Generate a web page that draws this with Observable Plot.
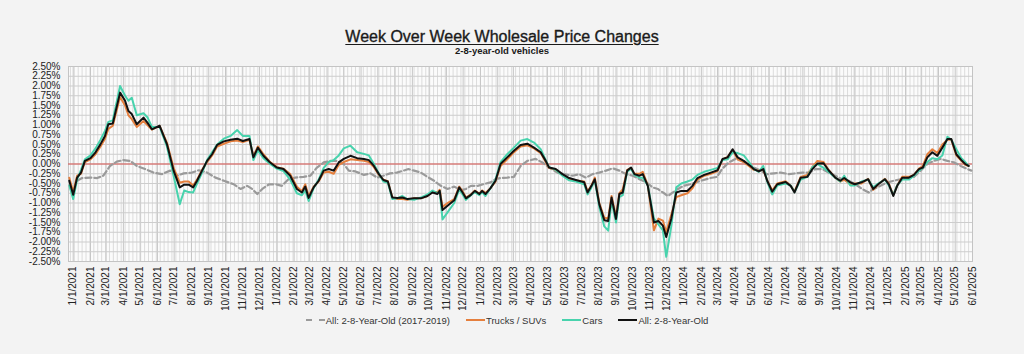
<!DOCTYPE html>
<html>
<head>
<meta charset="utf-8">
<script src="https://cdn.jsdelivr.net/npm/d3@7"></script>
<script src="https://cdn.jsdelivr.net/npm/@observablehq/plot@0.6"></script>
<style>
  body { margin: 0; background: #f3f3f3; font-family: "Liberation Sans", Arial, sans-serif; }
  #wrap { width: 1024px; height: 354px; overflow: hidden; }
  #head { height: 58px; box-sizing: border-box; padding-top: 28px; text-align: center; padding-right: 20px; }
  #title { font-size: 16px; line-height: 18px; color: #1a1a1a; text-decoration: underline; text-underline-offset: 2px; -webkit-text-stroke: 0.35px #1a1a1a; }
  #subtitle { font-size: 9.5px; line-height: 12px; font-weight: bold; color: #1a1a1a; margin-top: -1px; }
  #legend { height: 20px; display: flex; justify-content: center; align-items: center; font-size: 9.5px; color: #333; padding-right: 10px; }
  .item { display: flex; align-items: center; margin: 0 8px; }
  .sw { width: 19px; height: 0; margin-right: 1px; }
</style>
</head>
<body>
<div id="wrap">
  <div id="head">
    <div id="title">Week Over Week Wholesale Price Changes</div>
    <div id="subtitle">2-8-year-old vehicles</div>
  </div>
  <div id="chart"></div>
  <div id="legend"></div>
</div>
<script>
// ---- data (percent week-over-week) ----
const seriesNames = ["All: 2-8-Year-Old (2017-2019)", "Trucks / SUVs", "Cars", "All: 2-8-Year-Old"];

const weekDates = [
"2020-12-25","2021-01-01","2021-01-08","2021-01-15","2021-01-22","2021-02-01","2021-02-10","2021-02-19","2021-02-27","2021-03-05",
"2021-03-13","2021-03-26","2021-04-04","2021-04-10","2021-04-16","2021-04-25","2021-05-07","2021-05-14","2021-05-22","2021-06-05",
"2021-06-18","2021-06-30","2021-07-11","2021-07-19","2021-07-27","2021-08-04","2021-08-11","2021-08-20","2021-08-29","2021-09-07",
"2021-09-16","2021-09-28","2021-10-10","2021-10-22","2021-11-01","2021-11-13","2021-11-20","2021-11-28","2021-12-08","2021-12-20",
"2022-01-01","2022-01-13","2022-01-25","2022-02-06","2022-02-15","2022-02-21","2022-02-27","2022-03-08","2022-03-17","2022-03-26",
"2022-04-04","2022-04-13","2022-04-22","2022-05-01","2022-05-13","2022-05-25","2022-06-06","2022-06-15","2022-06-24","2022-07-03",
"2022-07-11","2022-07-19","2022-07-27","2022-08-05","2022-08-14","2022-08-23","2022-09-04","2022-09-16","2022-09-28","2022-10-07",
"2022-10-16","2022-10-20","2022-10-25","2022-11-03","2022-11-15","2022-11-24","2022-11-30","2022-12-06","2022-12-15","2022-12-22",
"2022-12-30","2023-01-04","2023-01-10","2023-01-19","2023-01-28","2023-02-06","2023-02-18","2023-03-02","2023-03-14","2023-03-26",
"2023-04-07","2023-04-19","2023-04-28","2023-05-04","2023-05-16","2023-05-28","2023-06-09","2023-06-21","2023-07-06","2023-07-12",
"2023-07-19","2023-07-25","2023-08-02","2023-08-11","2023-08-18","2023-08-24","2023-09-01","2023-09-07","2023-09-13","2023-09-21",
"2023-09-28","2023-10-04","2023-10-13","2023-10-19","2023-10-28","2023-11-08","2023-11-16","2023-11-24","2023-11-30","2023-12-09",
"2023-12-18","2023-12-27","2024-01-07","2024-01-16","2024-01-25","2024-02-06","2024-02-18","2024-03-01","2024-03-10","2024-03-19",
"2024-03-28","2024-04-06","2024-04-17","2024-04-29","2024-05-05","2024-05-14","2024-05-22","2024-05-29","2024-06-07","2024-06-16",
"2024-07-01","2024-07-10","2024-07-17","2024-07-28","2024-08-09","2024-08-18","2024-08-27","2024-09-07","2024-09-16","2024-09-28",
"2024-10-07","2024-10-14","2024-10-25","2024-11-02","2024-11-14","2024-11-26","2024-12-05","2024-12-14","2024-12-26","2025-01-02",
"2025-01-10","2025-01-17","2025-01-26","2025-02-07","2025-02-16","2025-02-25","2025-03-04","2025-03-12","2025-03-21","2025-03-30",
"2025-04-08","2025-04-17","2025-04-24","2025-05-03","2025-05-12","2025-05-19","2025-05-25"
];

const allValues = [
-0.43,-0.79,-0.35,-0.22,0.08,0.15,0.30,0.51,0.72,1.02,
1.04,1.83,1.62,1.36,1.28,1.02,1.19,1.06,0.89,0.98,
0.51,-0.17,-0.60,-0.53,-0.53,-0.60,-0.43,-0.17,0.08,0.25,
0.49,0.58,0.62,0.65,0.59,0.64,0.17,0.42,0.21,0.04,
-0.09,-0.13,-0.30,-0.64,-0.73,-0.58,-0.87,-0.60,-0.43,-0.17,
-0.13,-0.17,0.04,0.13,0.21,0.15,0.13,0.10,-0.05,-0.26,
-0.41,-0.45,-0.86,-0.87,-0.86,-0.90,-0.88,-0.88,-0.82,-0.73,
-0.77,-0.69,-1.18,-1.07,-0.93,-0.60,-0.73,-0.88,-0.79,-0.69,
-0.77,-0.69,-0.77,-0.62,-0.43,0.00,0.17,0.34,0.49,0.52,
0.42,0.30,0.08,-0.09,-0.13,-0.26,-0.36,-0.41,-0.47,-0.73,
-0.56,-0.39,-1.03,-1.44,-1.46,-0.86,-1.41,-0.77,-0.73,-0.17,
-0.09,-0.26,-0.30,-0.26,-0.56,-1.50,-1.46,-1.58,-1.87,-1.41,
-0.73,-0.69,-0.69,-0.56,-0.36,-0.28,-0.22,-0.16,0.13,0.17,
0.38,0.17,0.08,-0.05,-0.13,-0.19,-0.13,-0.43,-0.71,-0.52,
-0.46,-0.56,-0.73,-0.35,-0.33,-0.13,0.01,0.02,-0.16,-0.35,
-0.43,-0.36,-0.47,-0.52,-0.47,-0.39,-0.64,-0.52,-0.39,-0.52,
-0.82,-0.56,-0.35,-0.35,-0.28,-0.13,-0.09,0.17,0.30,0.21,
0.42,0.64,0.64,0.25,0.10,0.00,-0.05
];

const trucksValues = [
-0.35,-0.72,-0.30,-0.25,0.05,0.12,0.25,0.45,0.65,0.90,
0.98,1.72,1.50,1.25,1.15,0.95,1.10,1.00,0.88,0.98,
0.55,-0.10,-0.48,-0.45,-0.45,-0.55,-0.40,-0.15,0.05,0.22,
0.45,0.52,0.58,0.60,0.56,0.62,0.20,0.45,0.25,0.05,
-0.08,-0.12,-0.26,-0.58,-0.70,-0.52,-0.82,-0.58,-0.45,-0.22,
-0.20,-0.25,-0.02,0.05,0.12,0.10,0.08,0.05,-0.08,-0.28,
-0.40,-0.44,-0.85,-0.90,-0.90,-0.92,-0.88,-0.88,-0.82,-0.72,
-0.72,-0.66,-1.10,-1.00,-0.90,-0.58,-0.70,-0.86,-0.78,-0.68,
-0.76,-0.68,-0.74,-0.62,-0.45,-0.05,0.12,0.30,0.45,0.48,
0.40,0.28,0.05,-0.10,-0.15,-0.28,-0.38,-0.42,-0.45,-0.70,
-0.55,-0.35,-1.00,-1.38,-1.40,-0.82,-1.35,-0.75,-0.65,-0.15,
-0.10,-0.25,-0.25,-0.20,-0.55,-1.70,-1.40,-1.45,-1.75,-1.30,
-0.85,-0.80,-0.75,-0.62,-0.40,-0.30,-0.25,-0.18,0.12,0.18,
0.36,0.12,0.05,-0.08,-0.15,-0.17,-0.15,-0.42,-0.68,-0.50,
-0.44,-0.55,-0.70,-0.33,-0.28,-0.08,0.08,0.05,-0.15,-0.35,
-0.45,-0.40,-0.52,-0.50,-0.50,-0.38,-0.66,-0.52,-0.38,-0.50,
-0.80,-0.55,-0.33,-0.33,-0.28,-0.12,-0.05,0.25,0.38,0.28,
0.50,0.62,0.62,0.22,0.08,-0.02,-0.05
];

const carsValues = [
-0.55,-0.90,-0.40,-0.15,0.12,0.22,0.40,0.62,0.85,1.08,
1.12,2.00,1.75,1.62,1.70,1.25,1.30,1.20,0.95,0.95,
0.45,-0.30,-1.03,-0.68,-0.72,-0.73,-0.50,-0.22,0.10,0.30,
0.50,0.65,0.72,0.87,0.72,0.72,0.10,0.35,0.15,0.00,
-0.12,-0.18,-0.40,-0.75,-0.80,-0.68,-0.95,-0.62,-0.40,-0.10,
0.05,0.10,0.22,0.40,0.47,0.30,0.26,0.22,0.00,-0.25,
-0.45,-0.48,-0.90,-0.88,-0.82,-0.90,-0.92,-0.86,-0.78,-0.68,
-0.75,-0.70,-1.42,-1.24,-1.00,-0.65,-0.78,-0.92,-0.80,-0.72,
-0.80,-0.72,-0.82,-0.62,-0.40,0.05,0.25,0.42,0.60,0.64,
0.55,0.38,0.10,-0.08,-0.15,-0.30,-0.42,-0.45,-0.52,-0.78,
-0.60,-0.42,-1.10,-1.60,-1.71,-0.95,-1.50,-0.85,-0.80,-0.20,
-0.12,-0.28,-0.35,-0.35,-0.55,-1.40,-1.55,-1.70,-2.38,-1.60,
-0.60,-0.50,-0.45,-0.40,-0.28,-0.20,-0.15,-0.10,0.10,0.12,
0.30,0.28,0.22,0.00,-0.13,-0.20,-0.05,-0.45,-0.78,-0.55,
-0.50,-0.55,-0.72,-0.40,-0.33,-0.08,0.00,-0.10,-0.20,-0.35,
-0.45,-0.30,-0.55,-0.55,-0.45,-0.40,-0.60,-0.50,-0.40,-0.55,
-0.80,-0.55,-0.40,-0.40,-0.30,-0.17,-0.10,0.05,0.15,0.12,
0.22,0.70,0.62,0.38,0.15,0.05,-0.05
];

const baseDates = [
"2021-01-08","2021-01-17","2021-02-01","2021-02-13","2021-02-24","2021-03-08","2021-03-20","2021-04-01","2021-04-13","2021-04-25",
"2021-05-10","2021-05-25","2021-06-09","2021-06-24","2021-07-06","2021-07-18","2021-08-02","2021-08-14","2021-08-29","2021-09-13",
"2021-09-28","2021-10-16","2021-10-28","2021-11-09","2021-11-18","2021-11-27","2021-12-06","2021-12-18","2021-12-30","2022-01-10",
"2022-01-22","2022-02-03","2022-02-18","2022-03-02","2022-03-14","2022-03-26","2022-04-07","2022-04-19","2022-05-01","2022-05-10",
"2022-05-22","2022-06-06","2022-06-18","2022-06-30","2022-07-11","2022-07-23","2022-08-04","2022-08-16","2022-08-25","2022-09-04",
"2022-09-16","2022-09-28","2022-10-10","2022-10-22","2022-11-03","2022-11-15","2022-11-27","2022-12-06","2022-12-15","2022-12-27",
"2023-01-06","2023-01-19","2023-01-28","2023-02-06","2023-02-18","2023-03-02","2023-03-14","2023-03-26","2023-04-10","2023-04-22",
"2023-05-04","2023-05-19","2023-05-31","2023-06-15","2023-06-27","2023-07-09","2023-07-21","2023-08-02","2023-08-14","2023-08-26",
"2023-09-07","2023-09-19","2023-10-01","2023-10-13","2023-10-25","2023-11-06","2023-11-15","2023-11-24","2023-12-03","2023-12-12",
"2023-12-21","2023-12-31","2024-01-12","2024-01-24","2024-02-05","2024-02-17","2024-02-29","2024-03-09","2024-03-21","2024-04-02",
"2024-04-14","2024-04-23","2024-04-29","2024-05-17","2024-05-29","2024-06-10","2024-06-22","2024-07-07","2024-07-19","2024-07-31",
"2024-08-12","2024-08-24","2024-09-05","2024-09-16","2024-09-28","2024-10-10","2024-10-22","2024-11-03","2024-11-15","2024-11-27",
"2024-12-06","2024-12-18","2024-12-30","2025-01-11","2025-01-23","2025-02-04","2025-02-16","2025-02-28","2025-03-12","2025-03-24",
"2025-04-05","2025-04-17","2025-04-29","2025-05-11","2025-05-23","2025-05-30"
];

const baseValues = [
-0.43,-0.36,-0.35,-0.36,-0.30,-0.05,0.06,0.10,0.08,-0.05,
-0.13,-0.22,-0.26,-0.17,-0.30,-0.24,-0.22,-0.16,-0.22,-0.35,
-0.43,-0.52,-0.64,-0.56,-0.64,-0.77,-0.64,-0.52,-0.52,-0.56,
-0.39,-0.35,-0.33,-0.30,-0.09,0.04,0.08,0.08,0.00,-0.17,
-0.19,-0.28,-0.24,-0.35,-0.30,-0.24,-0.22,-0.17,-0.13,-0.17,
-0.22,-0.33,-0.43,-0.56,-0.64,-0.58,-0.67,-0.64,-0.56,-0.56,
-0.52,-0.47,-0.39,-0.36,-0.35,-0.33,-0.05,0.08,0.13,0.04,
-0.09,-0.22,-0.26,-0.30,-0.26,-0.35,-0.26,-0.22,-0.17,-0.11,
-0.17,-0.26,-0.30,-0.39,-0.47,-0.60,-0.64,-0.73,-0.82,-0.73,
-0.64,-0.56,-0.52,-0.46,-0.41,-0.36,-0.33,-0.13,0.04,0.13,
0.08,0.00,-0.05,-0.17,-0.26,-0.24,-0.22,-0.26,-0.24,-0.22,
-0.22,-0.13,-0.13,-0.22,-0.30,-0.39,-0.43,-0.52,-0.64,-0.73,
-0.64,-0.56,-0.47,-0.43,-0.39,-0.36,-0.33,-0.17,0.00,0.08,
0.13,0.08,0.04,-0.05,-0.13,-0.17
];

const yTickValues = [-2.5,-2.25,-2,-1.75,-1.5,-1.25,-1,-0.75,-0.5,-0.25,0,0.25,0.5,0.75,1,1.25,1.5,1.75,2,2.25,2.5];

const colors = { base: "#9a9a9a", trucks: "#e57f3d", cars: "#48d3ad", all: "#111111", zero: "#d9534f" };

// ---- build tables ----
const parse = s => new Date(s + "T00:00:00Z");
const base = baseDates.map((d, i) => ({ date: parse(d), v: baseValues[i] }));
const trucks = weekDates.map((d, i) => ({ date: parse(d), v: trucksValues[i] }));
const cars = weekDates.map((d, i) => ({ date: parse(d), v: carsValues[i] }));
const all = weekDates.map((d, i) => ({ date: parse(d), v: allValues[i] }));

const xStart = new Date(Date.UTC(2020, 11, 23, 14));
const xEnd = new Date(Date.UTC(2025, 5, 1));
const monthTicks = d3.utcMonth.range(new Date(Date.UTC(2021, 0, 1)), new Date(Date.UTC(2025, 5, 2)));
const weekTicks = d3.utcWeek.range(xStart, xEnd);
const fmtDate = d => `${d.getUTCMonth() + 1}/${d.getUTCDate()}/${d.getUTCFullYear()}`;

const chart = Plot.plot({
  width: 1024,
  height: 252,
  marginLeft: 68,
  marginRight: 52,
  marginTop: 8,
  marginBottom: 49,
  style: { background: "transparent", fontFamily: "'Liberation Sans', Arial, sans-serif", fontSize: "10px", color: "#222" },
  x: { type: "utc", domain: [xStart, xEnd] },
  y: { domain: [-2.5, 2.5] },
  marks: [
    Plot.frame({ fill: "#fbfbfb", stroke: "none" }),
    Plot.ruleX(weekTicks, { stroke: "#dcdcdc", strokeWidth: 1 }),
    Plot.ruleX(monthTicks, { stroke: "#c6c6c6", strokeWidth: 1 }),
    Plot.ruleY(yTickValues, { stroke: "#cdcdcd", strokeWidth: 1 }),
    Plot.frame({ stroke: "#c4c4c4" }),
    Plot.ruleY([0], { stroke: colors.zero, strokeWidth: 1.2 }),
    Plot.line(base, { x: "date", y: "v", stroke: colors.base, strokeWidth: 2.2, strokeDasharray: "6,3" }),
    Plot.line(trucks, { x: "date", y: "v", stroke: colors.trucks, strokeWidth: 2 }),
    Plot.line(cars, { x: "date", y: "v", stroke: colors.cars, strokeWidth: 2 }),
    Plot.line(all, { x: "date", y: "v", stroke: colors.all, strokeWidth: 2 }),
    Plot.axisY({ ticks: yTickValues, tickSize: 0, tickPadding: 8, tickFormat: d => d.toFixed(2) + "%", label: null, fontSize: 10 }),
    Plot.axisX({ ticks: monthTicks, tickSize: 0, tickPadding: 5, tickRotate: -90, tickFormat: fmtDate, label: null, fontSize: 10 })
  ]
});
document.getElementById("chart").appendChild(chart);

// ---- legend ----
const legendItems = [
  { name: seriesNames[0], color: colors.base, dash: true },
  { name: seriesNames[1], color: colors.trucks },
  { name: seriesNames[2], color: colors.cars },
  { name: seriesNames[3], color: colors.all }
];
const legend = document.getElementById("legend");
for (const it of legendItems) {
  const item = document.createElement("div");
  item.className = "item";
  const sw = document.createElement("div");
  sw.className = "sw";
  sw.style.borderTop = `2px ${it.dash ? "dashed" : "solid"} ${it.color}`;
  const label = document.createElement("span");
  label.textContent = it.name;
  item.appendChild(sw);
  item.appendChild(label);
  legend.appendChild(item);
}
</script>
</body>
</html>
